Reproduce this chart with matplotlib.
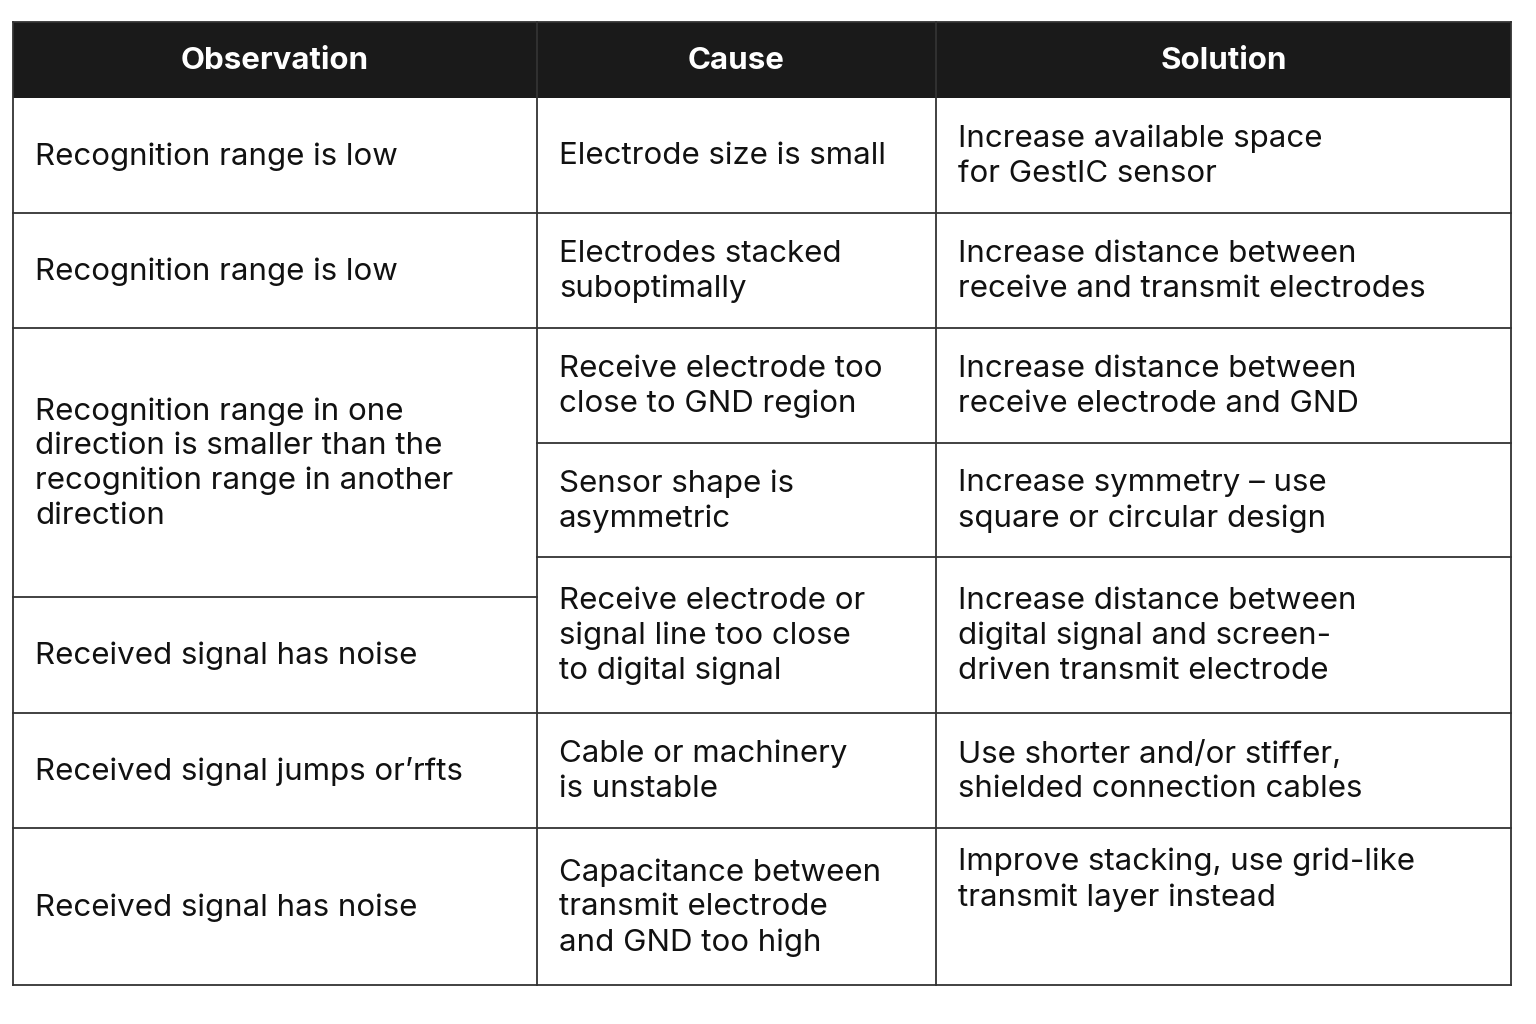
import matplotlib
matplotlib.use("Agg")
import matplotlib.pyplot as plt

headers = ["Observation", "Cause", "Solution"]
observations = [
    "Recognition range is low",
    "Recognition range is low",
    "Recognition range in one\ndirection is smaller than the\nrecognition range in another\ndirection",
    "Received signal has noise",
    "Received signal jumps or\u2019rfts",
    "Received signal has noise",
]
causes = [
    "Electrode size is small",
    "Electrodes stacked\nsuboptimally",
    "Receive electrode too\nclose to GND region",
    "Sensor shape is\nasymmetric",
    "Receive electrode or\nsignal line too close\nto digital signal",
    "Cable or machinery\nis unstable",
    "Capacitance between\ntransmit electrode\nand GND too high",
]
solutions = [
    "Increase available space\nfor GestIC sensor",
    "Increase distance between\nreceive and transmit electrodes",
    "Increase distance between\nreceive electrode and GND",
    "Increase symmetry \u2013 use\nsquare or circular design",
    "Increase distance between\ndigital signal and screen-\ndriven transmit electrode",
    "Use shorter and/or stiffer,\nshielded connection cables",
    "Improve stacking, use grid-like\ntransmit layer instead",
]

# layout (pixels)
xs = [13, 537, 936, 1511]
top, hb = 22, 98
obs_b = [98, 213, 328, 597, 713, 828, 985]
oth_b = [98, 213, 328, 443, 557, 713, 828, 985]
pad = 22

fig = plt.figure(figsize=(15.36, 10.24), dpi=100)
ax = fig.add_axes([0, 0, 1, 1])
ax.set_xlim(0, 1536); ax.set_ylim(1024, 0); ax.axis("off")
fam = ["Inter", "DejaVu Sans"]
fs = 22.5
lw = 1.3

ax.fill_between([xs[0], xs[3]], top, hb, color="#1a1a1a", lw=0)
for i, h in enumerate(headers):
    ax.text((xs[i] + xs[i + 1]) / 2, (top + hb) / 2 + 1, h, color="white", fontsize=fs,
            fontweight="bold", ha="center", va="center", family=fam)

def col(x0, x1, bounds, texts, special=None):
    for j, t in enumerate(texts):
        a, b = bounds[j], bounds[j + 1]
        ax.plot([x0, x1], [b, b], color="#333333", lw=lw)
        if special is not None and j == special:
            ax.text(x0 + pad, a + 20, t, fontsize=fs, ha="left", va="top",
                    family=fam, linespacing=1.3, color="#111111")
        else:
            ax.text(x0 + pad, (a + b) / 2 + 1, t, fontsize=fs, ha="left", va="center",
                    family=fam, linespacing=1.3, color="#111111")

col(xs[0], xs[1], obs_b, observations)
col(xs[1], xs[2], oth_b, causes)
col(xs[2], xs[3], oth_b, solutions, special=6)

for x in xs:
    ax.plot([x, x], [top, obs_b[-1]], color="#333333", lw=lw)
ax.plot([xs[0], xs[3]], [top, top], color="#333333", lw=lw)

fig.savefig("out.png", dpi=100, facecolor="white")
